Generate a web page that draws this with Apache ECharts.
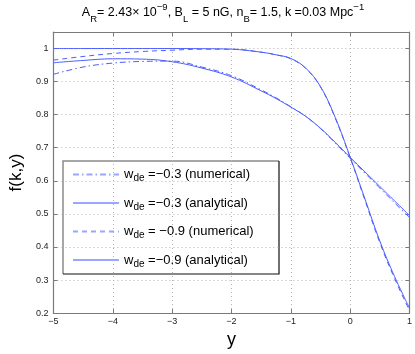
<!DOCTYPE html>
<html>
<head>
<meta charset="utf-8">
<script src="https://cdn.jsdelivr.net/npm/echarts@6/dist/echarts.min.js"></script>
<style>
  html, body { margin: 0; padding: 0; background: #fff; }
  #chart { width: 415px; height: 354px; }
</style>
</head>
<body>
<div id="chart"></div>
<script>
// y values (x axis)
let yVals = [-5, -4.5, -4, -3.5, -3, -2.5, -2, -1.5, -1.25, -1, -0.75, -0.5, -0.25, 0, 0.25, 0.5, 0.75, 1]

// w_de = -0.3
let numer03 = [0.922, 0.944, 0.956, 0.961, 0.962, 0.944, 0.918, 0.875, 0.851, 0.824, 0.795, 0.758, 0.714, 0.668, 0.623, 0.578, 0.533, 0.489]
let analy03 = [0.957, 0.964, 0.969, 0.968, 0.960, 0.941, 0.914, 0.872, 0.849, 0.823, 0.795, 0.759, 0.716, 0.671, 0.627, 0.583, 0.539, 0.495]
// w_de = -0.9
let numer09 = [0.965, 0.976, 0.985, 0.991, 0.995, 0.998, 0.998, 0.989, 0.981, 0.969, 0.940, 0.884, 0.789, 0.670, 0.541, 0.413, 0.304, 0.208]
let analy09 = [1.000, 1.000, 1.000, 1.000, 1.000, 0.9995, 0.998, 0.989, 0.981, 0.970, 0.941, 0.885, 0.791, 0.672, 0.545, 0.418, 0.310, 0.215]

let seriesNames = ['wde =−0.3 (numerical)', 'wde =−0.3 (analytical)', 'wde = −0.9 (numerical)', 'wde =−0.9 (analytical)']
let seriesData = [numer03, analy03, numer09, analy09]
let seriesDash = [[6, 3, 1.5, 3], 'solid', [5, 4], 'solid']

let blue = '#4c5dff'
let gridColor = '#b4b4b4'
let axisColor = '#7a7a7a'

function pairs(ys) {
    let out = []
    for (let i = 0; i < yVals.length; i++) {
        out.push([yVals[i], ys[i]])
    }
    return out
}

let dom = document.getElementById('chart')
let myChart = echarts.init(dom, null, { renderer: 'canvas' })

let series = []
for (let i = 0; i < seriesNames.length; i++) {
    series.push({
        name: seriesNames[i],
        type: 'line',
        data: pairs(seriesData[i]),
        smooth: 0.4,
        symbol: 'none',
        lineStyle: { color: blue, width: 1, type: seriesDash[i] },
        itemStyle: { color: blue }
    })
}

let minus = v => String(v).replace('-', '−')

let option = {
    backgroundColor: '#fff',
    animation: false,
    textStyle: { fontFamily: 'Liberation Sans, Arial, sans-serif' },
    grid: { left: 39, right: 5, top: 32, bottom: 32 },
    xAxis: [
        {
            type: 'value', min: -5, max: 1, interval: 1,
            name: 'y', nameLocation: 'middle', nameGap: 12,
            nameTextStyle: { fontSize: 18, color: '#000' },
            axisLine: { onZero: false, lineStyle: { color: axisColor, width: 1.2 } },
            axisTick: { inside: true, length: 4, lineStyle: { color: axisColor } },
            axisLabel: { fontSize: 9, color: '#222', margin: 4, formatter: minus },
            splitLine: { show: true, lineStyle: { color: gridColor, type: [1, 3] } }
        },
        {
            type: 'value', min: -5, max: 1, interval: 1, position: 'top',
            axisLine: { onZero: false, lineStyle: { color: axisColor, width: 1.2 } },
            axisTick: { inside: true, length: 4, lineStyle: { color: axisColor } },
            axisLabel: { show: false },
            splitLine: { show: false }
        }
    ],
    yAxis: [
        {
            type: 'value', min: 0.2, max: 1.05, interval: 0.1,
            name: 'f(k,y)', nameLocation: 'middle', nameGap: 19, nameRotate: 90,
            nameTextStyle: { fontSize: 17, color: '#000' },
            axisLine: { show: true, onZero: false, lineStyle: { color: axisColor, width: 1.2 } },
            axisTick: { show: true, inside: true, length: 4, lineStyle: { color: axisColor } },
            axisLabel: { fontSize: 9, color: '#222', margin: 5, showMaxLabel: false,
                formatter: v => (Math.abs(v * 10 - Math.round(v * 10)) < 1e-6) ? String(+v.toFixed(1)) : '' },
            splitLine: { show: true, lineStyle: { color: gridColor, type: [1, 3] } }
        },
        {
            type: 'value', min: 0.2, max: 1.05, interval: 0.1, position: 'right',
            axisLine: { show: true, onZero: false, lineStyle: { color: axisColor, width: 1.2 } },
            axisTick: { show: true, inside: true, length: 4, lineStyle: { color: axisColor } },
            axisLabel: { show: false },
            splitLine: { show: false }
        }
    ],
    legend: {
        orient: 'vertical',
        left: 72, top: 168,
        padding: 0,
        itemWidth: 46, itemHeight: 10, itemGap: 13,
        data: seriesNames,
        itemStyle: { opacity: 0 },
        lineStyle: { color: '#9aa6ff' },
        formatter: name => '{w|w}{d|de}{t|' + name.slice(3) + '}',
        textStyle: {
            color: '#000',
            rich: {
                w: { fontSize: 13, lineHeight: 18, verticalAlign: 'middle' },
                d: { fontSize: 10, lineHeight: 8, verticalAlign: 'bottom' },
                t: { fontSize: 13, lineHeight: 18, verticalAlign: 'middle' }
            }
        }
    },
    graphic: [
        {
            type: 'rect', z: -1,
            shape: { x: 63, y: 161, width: 216, height: 113 },
            style: { fill: '#fff', stroke: null }
        },
        {
            type: 'polyline', z: 0,
            shape: { points: [[63, 274], [63, 161], [279, 161]] },
            style: { stroke: '#8a8a8a', lineWidth: 1.5, fill: null }
        },
        {
            type: 'polyline', z: 0,
            shape: { points: [[63, 274], [279, 274], [279, 161]] },
            style: { stroke: '#111', lineWidth: 1.2, fill: null }
        },
        {
            type: 'text',
            x: 223, y: 13,
            style: {
                text: '{n|A}{s|R}{n|= 2.43× 10}{p|−9}{n|, B}{s|L}{n| = 5 nG, n}{s|B}{n|= 1.5, k =0.03 Mpc}{p|−1}',
                align: 'center', verticalAlign: 'middle',
                fontFamily: 'Liberation Sans, Arial, sans-serif',
                rich: {
                    n: { fontSize: 12.5, lineHeight: 22, verticalAlign: 'middle', fill: '#000' },
                    s: { fontSize: 9.5, lineHeight: 9, verticalAlign: 'bottom', fill: '#000' },
                    p: { fontSize: 9.5, lineHeight: 9, verticalAlign: 'top', fill: '#000' }
                }
            }
        }
    ],
    series: series
}

myChart.setOption(option)
window.addEventListener('resize', myChart.resize)
</script>
</body>
</html>
